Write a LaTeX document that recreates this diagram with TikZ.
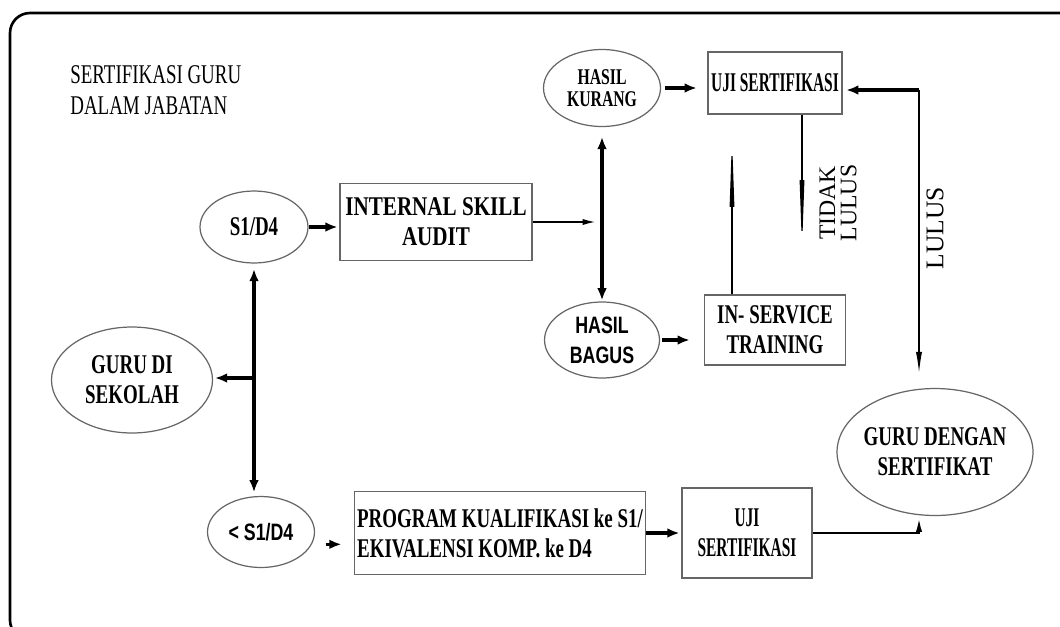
\documentclass[tikz,border=0pt]{standalone}
\usepackage{fontspec}
\setmainfont{Liberation Serif}
\newfontfamily\narrowserif[FakeStretch=0.7]{Liberation Serif}
\newfontfamily\wideserif[FakeStretch=0.78]{Liberation Serif}
\newfontfamily\slimserif[FakeStretch=0.57]{Liberation Serif}
\newfontfamily\narrowsans[FakeStretch=0.75]{Liberation Sans}
\usetikzlibrary{shapes.geometric,arrows.meta}

\newcommand{\boxfont}{\fontsize{15.4}{17}\selectfont\bfseries\narrowserif}
\newcommand{\widefont}{\fontsize{15.4}{17}\selectfont\bfseries\wideserif}
\newcommand{\slimfont}{\fontsize{15.4}{17}\selectfont\bfseries\slimserif}
\newcommand{\smallfont}{\fontsize{12.8}{12.5}\selectfont\bfseries\narrowserif}
\newcommand{\sansfont}{\fontsize{13.5}{17}\selectfont\bfseries\narrowsans}
\newcommand{\titlefont}{\fontsize{15.4}{18}\selectfont\narrowserif}

\begin{document}
\begin{tikzpicture}[x=0.02cm,y=-0.02cm,
    kotak/.style={draw=black!60,line width=0.7pt,inner sep=0pt,align=center,font=\boxfont},
    lonjong/.style={ellipse,draw=black!60,line width=0.7pt,inner sep=-4pt,align=center,font=\boxfont},
    panah/.style={line width=2pt,-{Latex[length=7pt,width=5.5pt]}},
    panahdua/.style={line width=2pt,{Latex[length=7pt,width=5.5pt]}-{Latex[length=7pt,width=5.5pt]}},
    panahtipis/.style={line width=0.7pt,-{Latex[length=7pt,width=3.5pt]}},
    panahsedang/.style={line width=1.4pt,-{Latex[length=9pt,width=3.5pt]}},
    duri/.style={line width=0.7pt,-{Triangle[length=1.4cm,width=0.9mm]}}]
    \useasboundingbox (0,0) rectangle (1060,626);
    \begin{scope}
        \clip (0,0) rectangle (1060,626);
        \draw[line width=1.5pt,rounded corners=0.4cm] (10,13) rectangle (1085,640); % frame
    \end{scope}

    \node[anchor=north west,inner sep=0pt,align=left,font=\titlefont] (judul) at (70,65)
    {SERTIFIKASI GURU\\DALAM JABATAN};

    % ellipses
    \node[lonjong,minimum width=2.16cm,minimum height=1.44cm] (s1) at (254,227) {S1/D4};
    \node[lonjong,minimum width=3.22cm,minimum height=2.12cm] (sekolah) at (132,380) {GURU DI\\SEKOLAH};
    \node[lonjong,font=\sansfont,minimum width=2.14cm,minimum height=1.42cm] (s1kurang) at (261,532) {< S1/D4};
    \node[lonjong,font=\smallfont,minimum width=2.34cm,minimum height=1.54cm] (kurang) at (602,88) {HASIL\\KURANG};
    \node[lonjong,font=\sansfont,minimum width=2.3cm,minimum height=1.52cm] (bagus) at (602,340) {HASIL\\BAGUS};
    \node[lonjong,minimum width=3.92cm,minimum height=2.54cm] (dengan) at (935,452) {GURU DENGAN\\SERTIFIKAT};

    % boxes
    \node[kotak,font=\widefont,minimum width=3.84cm,minimum height=1.54cm] (isa) at (436,222) {INTERNAL SKILL\\AUDIT};
    \node[kotak,font=\slimfont,minimum width=2.68cm,minimum height=1.24cm] (ujiA) at (775,83) {UJI SERTIFIKASI};
    \node[kotak,minimum width=2.82cm,minimum height=1.4cm] (ist) at (775,330) {IN- SERVICE\\TRAINING};
    \node[kotak,align=left,minimum width=5.82cm,minimum height=1.66cm] (program) at (500,533)
    {PROGRAM KUALIFIKASI ke S1/\\EKIVALENSI KOMP. ke D4};
    \node[kotak,font=\slimfont,minimum width=2.6cm,minimum height=1.8cm] (ujiB) at (747,533) {UJI\\SERTIFIKASI};

    % labels
    \node[rotate=90,font=\fontsize{14.5}{15}\selectfont] (lulus) at (935,228) {LULUS};
    \node[rotate=90,align=center,font=\fontsize{13.5}{12}\selectfont] (tidak) at (838,203) {TIDAK\\LULUS};

    % connectors
    \coordinate (cabang) at (254,378);
    \coordinate (naik) at (732,137);
    \coordinate (turun) at (802,250);
    \coordinate (lulusatas) at (919,90);

    \draw[panah,shorten >=1pt] (s1.east) -- (s1.east -| isa.west);
    \draw[panahdua,shorten <=3pt,shorten >=2pt] (s1.south) -- (s1.south |- s1kurang.north);
    \draw[panah,shorten >=1pt] (cabang) -- (sekolah.east |- cabang);
    \draw[panahtipis] (isa.east) -- ([xshift=-4pt]isa.east -| kurang);
    \draw[panahdua,shorten <=5.5pt,shorten >=0.5pt] (kurang.south) -- (bagus.north);
    \draw[panah,shorten <=2pt,shorten >=6pt] (kurang.east) -- (ujiA.west |- kurang.east);
    \draw[panah,shorten <=1pt,shorten >=8pt] (bagus.east) -- (ist.west |- bagus.east);
    \draw[duri] (ist.north -| naik) -- (naik);
    \draw[duri] (ujiA.south -| turun) -- (turun);
    \draw[panah,shorten >=2pt] (lulusatas) -- (ujiA.east |- lulusatas);
    \draw[panahtipis,-{Latex[length=12pt,width=3.5pt]}] (lulusatas) -- ([yshift=8.5pt]dengan.north -| lulusatas);
    \draw[panah,shorten <=6pt,shorten >=7pt] ([yshift=-7pt]s1kurang.east) -- ([yshift=-7pt]s1kurang.east -| program.west);
    \draw[panah,shorten >=1pt] (program.east) -- (ujiB.west |- program.east);
    \draw[panahsedang] (ujiB.east) -| (lulusatas |- dengan.south);
\end{tikzpicture}
\end{document}
